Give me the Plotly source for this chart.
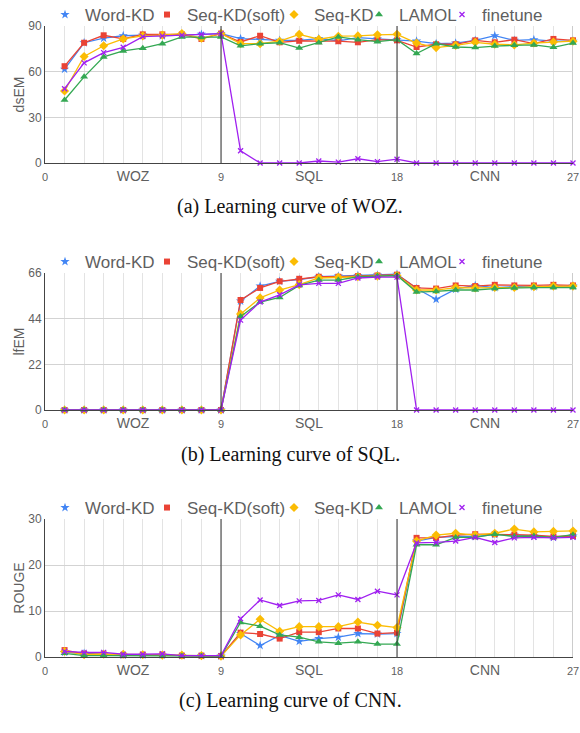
import plotly.graph_objects as go

x = list(range(1, 28))
series_names = ["Word-KD", "Seq-KD(soft)", "Seq-KD", "LAMOL", "finetune"]
colors = ["#4285F4", "#EA4335", "#FBBC04", "#34A853", "#A020F0"]
symbols = ["star", "square", "diamond", "triangle-up", "x-thin-open"]
sizes = [7, 6, 7, 7, 5]

# (a) WOZ - dsEM
woz_word = [61.6, 79, 82, 83.6, 84, 83.5, 84, 84.5, 85, 81.7, 81, 80.6, 80.6, 81.7, 80.3, 82.3, 81.5, 81, 80.1, 78.4, 78.8, 80.6, 83.6, 80.6, 81, 80, 80]
woz_soft = [63.6, 79, 83.9, 81.5, 84.5, 84.5, 84.5, 81.5, 85, 79.5, 83.6, 79.3, 80.3, 80, 80, 79.3, 81, 80.6, 76.2, 78, 78, 80.6, 79.3, 81, 78.4, 81.5, 80.6]
woz_seq = [47.3, 70, 77, 81.5, 83.5, 84, 85, 82, 85, 78.4, 78.4, 80, 84.5, 81.3, 83.3, 83.5, 84.2, 84.5, 78.8, 75.8, 77.3, 79.3, 78, 77.6, 78.8, 79.5, 80]
woz_lamol = [41.4, 56.6, 69.7, 73.6, 75.4, 78.4, 82.8, 82.5, 82.8, 77, 78.4, 79, 75.5, 79, 82.8, 81, 79.7, 81, 71.9, 78.4, 76.2, 75.8, 76.8, 77.3, 77.6, 76, 78.8]
woz_fine = [48.8, 65.8, 72.5, 76, 83, 83.5, 84, 84.5, 85, 8, 0, 0, 0, 1.3, 0.6, 2.8, 0.9, 2.5, 0, 0, 0, 0, 0, 0, 0, 0, 0]

# (b) SQL - lfEM
sql_word = [0] * 9 + [52.5, 59.7, 62, 62.8, 64.2, 64.5, 64.8, 65, 65.4, 58.5, 53.3, 58.2, 60, 59, 59.4, 59.4, 59.7, 59.7]
sql_soft = [0] * 9 + [53, 58.8, 62, 63.2, 64.2, 64.2, 64.5, 64.8, 65.2, 58.8, 58.5, 60, 59.7, 60.3, 60, 60, 60.3, 60]
sql_seq = [0] * 9 + [46.2, 54, 57.8, 60.4, 63.6, 63.9, 64.2, 64.5, 64.8, 57.8, 57.8, 59, 58.8, 59, 59, 59.4, 59.7, 59.7]
sql_lamol = [0] * 9 + [45, 52, 54.2, 60, 62.6, 62.6, 64.2, 64.5, 64.8, 56.8, 57.1, 57.8, 57.8, 58.5, 58.8, 59, 59, 59]
sql_fine = [0] * 9 + [43.3, 52, 55.5, 60.3, 61, 61, 63.6, 64, 64, 0, 0, 0, 0, 0, 0, 0, 0, 0]

# (c) CNN - ROUGE
cnn_word = [1.0, 0.8, 0.6, 0.4, 0.4, 0.4, 0.3, 0.3, 0.2, 5.1, 2.5, 4.7, 3.4, 4.0, 4.3, 5.1, 5.0, 5.1, 25.2, 26.0, 26.2, 26.2, 26.6, 26.5, 26.3, 26.0, 26.3]
cnn_soft = [1.5, 0.7, 0.6, 0.4, 0.5, 0.5, 0.3, 0.3, 0.2, 5.3, 5.0, 4.0, 5.4, 5.4, 6.2, 6.2, 5.1, 5.3, 25.9, 25.9, 26.5, 26.7, 26.7, 26.6, 26.5, 26.2, 26.3]
cnn_seq = [1.2, 0.5, 0.6, 0.6, 0.5, 0.4, 0.4, 0.3, 0.2, 4.8, 8.2, 5.6, 6.6, 6.6, 6.6, 7.6, 6.9, 6.4, 25.2, 26.5, 26.9, 26.5, 26.9, 27.8, 27.2, 27.3, 27.4]
cnn_lamol = [0.8, 0.3, 0.3, 0.3, 0.2, 0.2, 0.2, 0.2, 0.2, 7.5, 6.7, 4.8, 4.3, 3.3, 3.0, 3.3, 2.8, 2.8, 24.4, 24.4, 26.0, 26.0, 26.7, 26.2, 26.3, 26.0, 26.6]
cnn_fine = [1.2, 1.0, 1.0, 0.6, 0.6, 0.7, 0.3, 0.3, 0.3, 8.3, 12.4, 11.2, 12.2, 12.3, 13.5, 12.5, 14.3, 13.5, 24.8, 24.9, 25.2, 26.0, 24.9, 25.9, 26.0, 25.9, 26.0]

panels = [
    dict(data=[woz_word, woz_soft, woz_seq, woz_lamol, woz_fine], ytitle="dsEM", yticks=[0, 30, 60, 90],
         caption="(a) Learning curve of WOZ.", dom=(26, 163), legy=15, capy=206),
    dict(data=[sql_word, sql_soft, sql_seq, sql_lamol, sql_fine], ytitle="lfEM", yticks=[0, 22, 44, 66],
         caption="(b) Learning curve of SQL.", dom=(273, 410), legy=262, capy=454),
    dict(data=[cnn_word, cnn_soft, cnn_seq, cnn_lamol, cnn_fine], ytitle="ROUGE", yticks=[0, 10, 20, 30],
         caption="(c) Learning curve of CNN.", dom=(519, 657), legy=508, capy=700),
]

# left edge (px) of each legend label's text in the reference
legend_text_left = [85, 187, 314, 399, 482]

W, H = 580, 733
x_ticks = [0, 4.5, 9, 13.5, 18, 22.5, 27]
x_text = ["0", "WOZ", "9", "SQL", "18", "CNN", "27"]
num_span = '<span style="font-size:11px">{}</span>'
x_text = [num_span.format(t) if t.isdigit() else t for t in x_text]

fig = go.Figure()
layout = dict(width=W, height=H, margin=dict(l=0, r=0, t=0, b=0, autoexpand=False),
              plot_bgcolor="white", paper_bgcolor="white",
              font=dict(family="Liberation Sans, Arial", color="#5f5f5f"))
shapes, annotations = [], []
LEG_OFF = 40

for p_i, p in enumerate(panels):
    suffix = "" if p_i == 0 else str(p_i + 1)
    xa, ya = "xaxis" + suffix, "yaxis" + suffix
    xr, yr = "x" + suffix, "y" + suffix
    for s_i, vals in enumerate(p["data"]):
        fig.add_trace(go.Scatter(
            x=x, y=vals, mode="lines+markers", name=series_names[s_i], showlegend=False,
            line=dict(color=colors[s_i], width=1.3),
            marker=dict(symbol=symbols[s_i], size=sizes[s_i], color=colors[s_i],
                        line=dict(color=colors[s_i], width=1.3 if s_i == 4 else 0)),
            xaxis=xr, yaxis=yr, cliponaxis=False))
    for s_i in range(5):
        li = p_i * 5 + s_i + 1
        leg = "legend" if li == 1 else "legend" + str(li)
        fig.add_trace(go.Scatter(
            x=[None], y=[None], mode="markers", name=series_names[s_i], showlegend=True,
            marker=dict(symbol=symbols[s_i], size=sizes[s_i], color=colors[s_i],
                        line=dict(color=colors[s_i], width=1.3 if s_i == 4 else 0)),
            xaxis=xr, yaxis=yr, legend=leg))
        layout[leg] = dict(orientation="h", xref="container", yref="container",
                           x=(legend_text_left[s_i] - LEG_OFF) / W, xanchor="left",
                           y=1 - p["legy"] / H, yanchor="middle",
                           font=dict(size=17, color="#5f5f5f"), itemwidth=30,
                           bgcolor="rgba(0,0,0,0)", borderwidth=0)
    top, bot = p["dom"]
    layout[xa] = dict(domain=[45 / W, 573 / W], range=[0, 27], anchor=yr, automargin=False,
                      tickmode="array", tickvals=x_ticks, ticktext=x_text,
                      showgrid=False, zeroline=False, showline=True, linecolor="#444", linewidth=1,
                      ticks="", tickfont=dict(size=14, color="#5f5f5f"), ticklabeloverflow="allow",
                      minor=dict(dtick=1, tick0=0, showgrid=True, gridcolor="#e3e3e3", gridwidth=1, ticks=""))
    layout[ya] = dict(domain=[1 - bot / H, 1 - top / H], range=[0, p["yticks"][-1]], anchor=xr,
                      automargin=False,
                      tickmode="array", tickvals=p["yticks"], showgrid=True, gridcolor="#d3d3d3",
                      zeroline=False, showline=True, linecolor="#444", linewidth=1, ticks="",
                      tickfont=dict(size=12, color="#5f5f5f"),
                      title=dict(text=p["ytitle"], font=dict(size=14, color="#5f5f5f"), standoff=0))
    for xv in (9, 18):
        shapes.append(dict(type="line", xref=xr, yref=yr + " domain", x0=xv, x1=xv, y0=0, y1=1,
                           line=dict(color="#333", width=1), layer="above"))
    shapes.append(dict(type="line", xref=xr, yref=yr + " domain", x0=27, x1=27, y0=0, y1=1,
                       line=dict(color="#999", width=1), layer="below"))
    annotations.append(dict(text=p["caption"], xref="paper", yref="paper", x=0.5, y=1 - p["capy"] / H,
                            xanchor="center", yanchor="middle", showarrow=False,
                            font=dict(family="Liberation Serif, Times New Roman", size=20, color="#111")))

layout["shapes"] = shapes
layout["annotations"] = annotations
fig.update_layout(**layout)
fig.write_html("out.html", config={"displayModeBar": False},
               post_script="document.body.style.margin='0';document.body.style.padding='0';")
